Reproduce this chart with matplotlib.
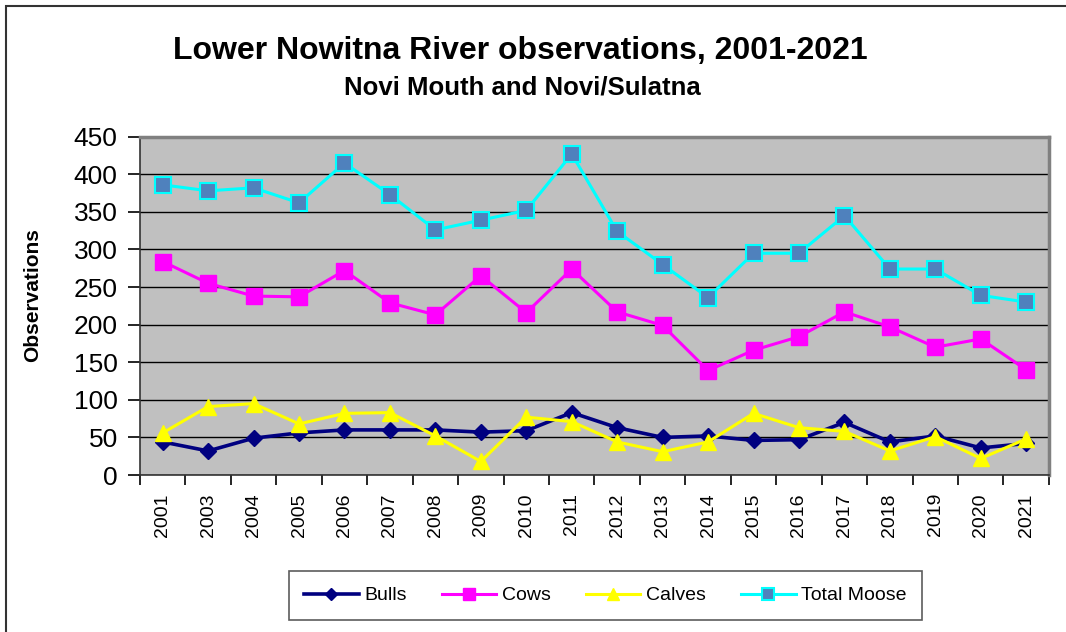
import numpy as np
import matplotlib
matplotlib.use("Agg")
import matplotlib.pyplot as plt
from matplotlib.patches import Rectangle
from matplotlib.ticker import FixedLocator

plt.rcParams['font.family'] = ['Liberation Sans', 'DejaVu Sans']

years = ['2001', '2003', '2004', '2005', '2006', '2007', '2008', '2009', '2010', '2011',
         '2012', '2013', '2014', '2015', '2016', '2017', '2018', '2019', '2020', '2021']
bulls = [44, 32, 49, 56, 60, 60, 60, 57, 59, 83, 63, 50, 52, 46, 47, 70, 44, 52, 36, 42]
cows = [284, 255, 238, 237, 272, 229, 213, 265, 216, 274, 217, 199, 139, 166, 184, 217, 197, 170, 181, 140]
calves = [56, 91, 95, 68, 82, 83, 52, 18, 77, 71, 44, 31, 44, 82, 63, 58, 32, 51, 22, 48]
total = [386, 378, 382, 362, 415, 373, 326, 339, 352, 427, 324, 280, 236, 295, 295, 345, 274, 274, 239, 230]

fig = plt.figure(figsize=(10.66, 6.32), dpi=100)
ax = fig.add_axes([0.1313, 0.2484, 0.8527, 0.5353])
ax.set_facecolor('#C0C0C0')

x = np.arange(len(years))
ax.plot(x, bulls, color='#000080', lw=2.6, marker='D', ms=8, mfc='#000080', mec='#000080',
        label='Bulls', zorder=3)
ax.plot(x, cows, color='#FF00FF', lw=2.2, marker='s', ms=12, mfc='#FF00FF', mec='#FF00FF',
        label='Cows', zorder=4)
ax.plot(x, calves, color='#FFFF00', lw=2.2, marker='^', ms=12, mfc='#FFFF00', mec='#FFFF00',
        label='Calves', zorder=5)
ax.plot(x, total, color='#00FFFF', lw=2.2, marker='s', ms=11, mfc='#4F81BD', mec='#00FFFF',
        mew=1.5, label='Total Moose', zorder=4)

ax.set_xlim(-0.5, len(years) - 0.5)
ax.set_ylim(0, 450)
ax.set_yticks(np.arange(0, 451, 50))
ax.yaxis.grid(True, color='black', lw=1)
ax.set_axisbelow(True)
ax.tick_params(axis='y', labelsize=19, length=9, width=1.2, pad=7)

ax.set_xticks(x)
ax.set_xticklabels(years, rotation=90, fontsize=14)
ax.xaxis.set_minor_locator(FixedLocator(np.arange(-0.5, len(years), 1)))
ax.tick_params(axis='x', which='major', length=0, pad=13)
ax.tick_params(axis='x', which='minor', length=7, width=1.2)

for s in ['top', 'right']:
    ax.spines[s].set_color('#808080')
    ax.spines[s].set_linewidth(2.5)
for s in ['left', 'bottom']:
    ax.spines[s].set_color('#333333')
    ax.spines[s].set_linewidth(1.2)

fig.text(0.031, 0.533, 'Observations', rotation=90, ha='center', va='center',
         fontsize=15, fontweight='bold')
fig.text(0.488, 0.919, 'Lower Nowitna River observations, 2001-2021', ha='center',
         va='center', fontsize=23, fontweight='bold')
fig.text(0.49, 0.862, 'Novi Mouth and Novi/Sulatna', ha='center', va='center',
         fontsize=18.5, fontweight='bold')

leg = fig.legend(loc='center', ncol=4,
                 bbox_to_anchor=(605.5 / 1066, 1 - 595.5 / 632),
                 fontsize=14, frameon=True, fancybox=False, edgecolor='#333333',
                 handlelength=2.8, handletextpad=0.3, columnspacing=1.8,
                 borderpad=0.8, borderaxespad=0, markerscale=0.75)
leg.get_frame().set_linewidth(1.2)

fig.add_artist(Rectangle((6 / 1066, -0.1), 1.2, 1.1 - 6 / 632, transform=fig.transFigure,
                         fill=False, edgecolor='#333333', lw=1.5))

fig.savefig('out.png', dpi=100)
